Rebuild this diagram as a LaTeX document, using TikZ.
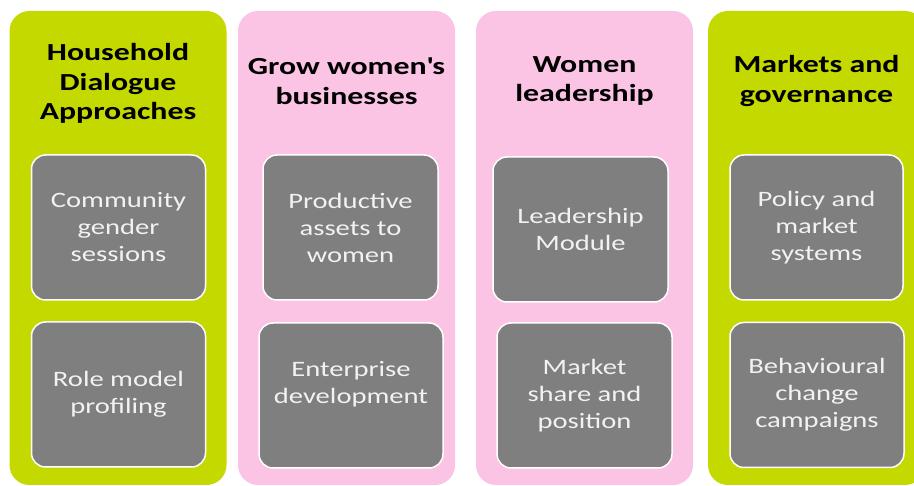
\documentclass[tikz,border=0pt]{standalone}
\usepackage{fontspec}
\setmainfont{Carlito}[FakeStretch=1.3]
\definecolor{pillgreen}{HTML}{C4D900}
\definecolor{pillpink}{HTML}{FBC3E4}
\definecolor{cardgray}{HTML}{7F7F7F}
\definecolor{cardtext}{HTML}{F2F2F2}

\begin{document}
\begin{tikzpicture}[x=1pt, y=-1pt,
    pillar/.style={rounded corners=20pt, minimum width=217pt, minimum height=474pt, inner sep=0pt},
    head/.style={align=center, font=\bfseries\fontsize{24.5}{29.5}\selectfont},
    card/.style={draw=white, line width=1.5pt, fill=cardgray, rounded corners=14pt,
        minimum width=174pt, minimum height=145pt, inner sep=0pt, align=center,
        text=cardtext, font=\fontsize{22}{27}\selectfont}]
    \useasboundingbox (0,0) rectangle (914,486);
    \clip (0,0) rectangle (914,486);

    % the four pillars
    \node[pillar, fill=pillgreen] (hda)  at (118,248)   {};
    \node[pillar, fill=pillpink]  (grow) at (346.5,248) {};
    \node[pillar, fill=pillpink]  (lead) at (584.5,248) {};
    \node[pillar, fill=pillgreen] (mkt)  at (816.5,248) {};

    % headings
    \node[head] (hdatitle)  at (118,83.5) {Household\\Dialogue\\Approaches};
    \node[head] (growtitle) at (346.5,81) {Grow women\textquotesingle s\\businesses};
    \node[head] (leadtitle) at (584.5,81) {Women\\leadership};
    \node[head] (mkttitle)  at (816.5,81) {Markets and\\governance};

    % activities
    \node[card] (community)  at (118.5,227.5) {Community\\gender\\sessions};
    \node[card] (rolemodel)  at (118.5,394.5) {Role model\\profiling};
    \node[card, minimum width=175pt] (assets) at (350.5,227.5) {Productive\\assets to\\women};
    \node[card, minimum width=184pt] (enterprise) at (351,395.5) {Enterprise\\development\\~};
    \node[card, minimum width=175pt] (module) at (580.5,229.5) {Leadership\\Module};
    \node[card, minimum width=175pt] (share)  at (584.5,395.5) {Market\\share and\\position};
    \node[card, minimum width=173pt] (policy) at (816.5,227.5) {Policy and\\market\\systems};
    \node[card] (behaviour) at (817,395) {Behavioural\\change\\campaigns};
\end{tikzpicture}
\end{document}
